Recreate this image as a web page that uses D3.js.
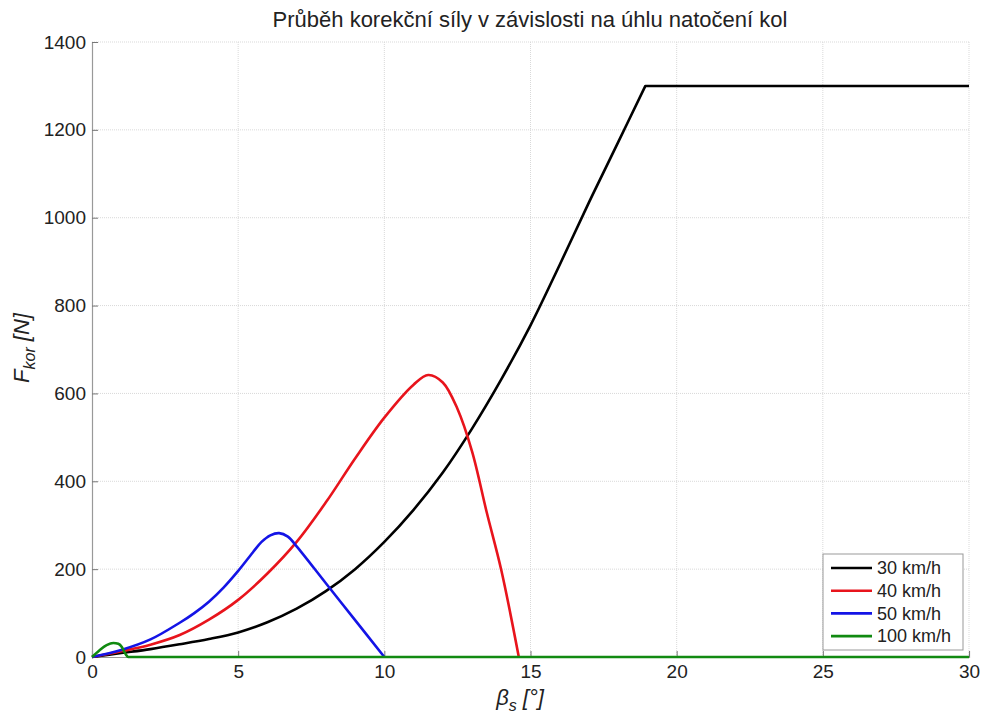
<!DOCTYPE html>
<html>
<head>
<meta charset="utf-8">
<script src="https://cdn.jsdelivr.net/npm/d3@7"></script>
<style>
  body { margin: 0; background: #fff; }
  text { font-family: "Liberation Sans", Arial, sans-serif; fill: #222; }
</style>
</head>
<body>
<script>
// x = steering angle beta_s [deg], y = F_kor [N]
var speeds = ['30 km/h', '40 km/h', '50 km/h', '100 km/h'];
var colors = ['#000000', '#e8141c', '#1414e6', '#118a11'];

// 30 km/h rises to the 1300 N limit, then stays flat up to 30 deg
var x30 = [0, 1, 2, 3, 4, 5, 6, 7, 8, 9, 10, 11, 12, 13, 14, 15, 16, 17, 18, 18.93];
var y30 = [0, 9, 18, 29, 41, 56, 79, 110, 150, 200, 262, 335, 420, 520, 632, 755, 893, 1035, 1172, 1300];
var limit30 = [18.93, 30];

var x40 = [0, 1, 2, 3, 4, 5, 6, 7, 8, 9, 10, 11, 11.5, 12, 12.5, 13, 13.5, 14, 14.6];
var y40 = [0, 13, 28, 50, 85, 130, 190, 262, 352, 452, 545, 620, 642, 625, 565, 468, 330, 198, 0];

var x50 = [0, 1, 2, 3, 3.5, 4, 4.5, 5, 5.5, 5.8, 6.1, 6.4, 6.7, 7, 8, 9, 10];
var y50 = [0, 16, 40, 78, 100, 126, 158, 196, 238, 262, 277, 282, 274, 252, 168, 84, 0];

var x100 = [0, 0.25, 0.5, 0.73, 0.9, 1.02, 1.12, 1.2, 1.24, 30];
var y100 = [0, 15, 27, 32, 30, 23, 10, 2, 0, 0];

var xTicks = [0, 5, 10, 15, 20, 25, 30];
var yTicks = [0, 200, 400, 600, 800, 1000, 1200, 1400];

var series = [[x30, y30], [x40, y40], [x50, y50], [x100, y100]].map(function (s, i) {
  return { name: speeds[i], color: colors[i], pts: s[0].map(function (v, j) { return [v, s[1][j]]; }) };
});

var width = 987, height = 715;
var margin = { top: 42, right: 18, bottom: 58, left: 92 };

var svg = d3.select('body').append('svg').attr('width', width).attr('height', height);

var x = d3.scaleLinear().domain([0, 30]).range([margin.left, width - margin.right]);
var y = d3.scaleLinear().domain([0, 1400]).range([height - margin.bottom, margin.top]);

// grid
svg.append('g').selectAll('line').data(xTicks.slice(1)).enter().append('line')
  .attr('x1', x).attr('x2', x).attr('y1', y(0)).attr('y2', y(1400))
  .attr('stroke', '#d9d9d9').attr('stroke-dasharray', '1,1');
svg.append('g').selectAll('line').data(yTicks.slice(1)).enter().append('line')
  .attr('x1', x(0)).attr('x2', x(30)).attr('y1', y).attr('y2', y)
  .attr('stroke', '#d9d9d9').attr('stroke-dasharray', '1,1');

// axes, ticks inside like matlab
var xAxis = svg.append('g').attr('transform', 'translate(0,' + y(0) + ')')
  .call(d3.axisBottom(x).tickValues(xTicks).tickSize(-6).tickPadding(8).tickFormat(d3.format('d')));
var yAxis = svg.append('g').attr('transform', 'translate(' + x(0) + ',0)')
  .call(d3.axisLeft(y).tickValues(yTicks).tickSize(-6).tickPadding(6).tickFormat(d3.format('d')));
[xAxis, yAxis].forEach(function (a) {
  a.select('.domain').attr('stroke', '#999').attr('stroke-width', 1.2);
  a.selectAll('.tick line').attr('stroke', '#777');
  a.selectAll('.tick text').style('font-size', '19px').attr('fill', '#222')
    .style('font-family', '"Liberation Sans", Arial, sans-serif');
});

// curves
var smooth = d3.line()
  .x(function (d) { return x(d[0]); })
  .y(function (d) { return y(d[1]); })
  .curve(d3.curveCatmullRom.alpha(0.5));
var mono = d3.line()
  .x(function (d) { return x(d[0]); })
  .y(function (d) { return y(d[1]); })
  .curve(d3.curveMonotoneX);

svg.append('g').selectAll('path').data(series).enter().append('path')
  .attr('d', function (d, i) {
    if (i === 3) return mono(d.pts);
    var p = smooth(d.pts);
    // keep the corner at the 1300 N limit sharp
    if (i === 0) p += 'L' + x(limit30[1]) + ',' + y(y30[y30.length - 1]);
    return p;
  })
  .attr('fill', 'none')
  .attr('stroke', function (d) { return d.color; })
  .attr('stroke-width', 2.6)
  .attr('stroke-linejoin', 'round');

// title and labels
svg.append('text').attr('x', 530).attr('y', 27).attr('text-anchor', 'middle')
  .style('font-size', '22px').text('Průběh korekční síly v závislosti na úhlu natočení kol');

var yl = svg.append('text').attr('transform', 'translate(29,348) rotate(-90)')
  .attr('text-anchor', 'middle').style('font-size', '22px').style('font-style', 'italic');
yl.append('tspan').text('F');
yl.append('tspan').attr('dy', 6).style('font-size', '16px').text('kor');
yl.append('tspan').attr('dy', -6).text(' [N]');

var xl = svg.append('text').attr('x', 520).attr('y', 705)
  .attr('text-anchor', 'middle').style('font-size', '22px').style('font-style', 'italic');
xl.append('tspan').text('β');
xl.append('tspan').attr('dy', 6).style('font-size', '16px').text('s');
xl.append('tspan').attr('dy', -6).text(' [°]');

// legend
var lg = svg.append('g').attr('transform', 'translate(823,554)');
lg.append('rect').attr('width', 140).attr('height', 96)
  .attr('fill', '#fff').attr('stroke', '#999');
var row = lg.selectAll('g').data(series).enter().append('g')
  .attr('transform', function (d, i) { return 'translate(0,' + (14 + i * 22.7) + ')'; });
row.append('line').attr('x1', 8).attr('x2', 49)
  .attr('stroke', function (d) { return d.color; }).attr('stroke-width', 2.6);
row.append('text').attr('x', 54).attr('dy', '0.35em').style('font-size', '18px')
  .text(function (d) { return d.name; });
</script>
</body>
</html>
